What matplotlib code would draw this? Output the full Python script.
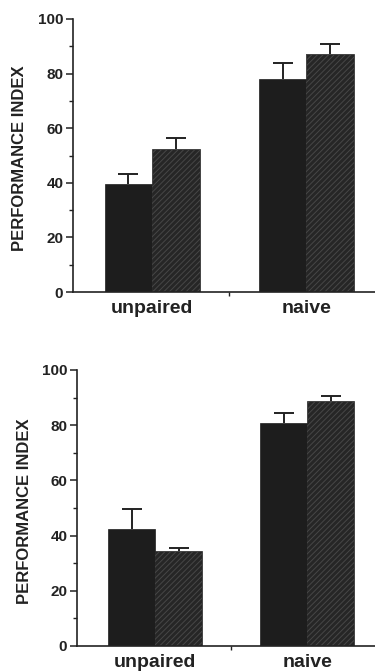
import numpy as np
import matplotlib

matplotlib.use("Agg")
import matplotlib.pyplot as plt

plt.rcParams["font.family"] = ["Liberation Sans", "DejaVu Sans"]
plt.rcParams["font.weight"] = "bold"
plt.rcParams["hatch.linewidth"] = 0.7

groups = ["unpaired", "naive"]
ylabel = "PERFORMANCE INDEX"

# upper experiment
top_a = [39.5, 78.0]
top_a_err = [3.7, 6.0]
top_b = [52.5, 87.2]
top_b_err = [3.8, 3.6]

# lower experiment
bot_a = [42.3, 80.7]
bot_a_err = [7.2, 3.7]
bot_b = [34.4, 88.9]
bot_b_err = [1.1, 1.7]

C_A, C_B, HATCH, INK = "#1d1d1d", "#262626", "#474747", "#222222"
W = 0.31
CAP = 0.065


def panel(ax, a, a_err, b, b_err):
    x = np.arange(len(groups))
    ax.bar(x - W / 2, a, W, color=C_A, edgecolor=C_A, lw=0.5)
    ax.bar(x + W / 2, b, W, color=C_B, edgecolor=C_B, lw=0.5)
    # hatching on the second series, drawn as an overlay
    ax.bar(x + W / 2, b, W, facecolor="none", edgecolor=HATCH, lw=0, hatch="//////")
    for xs, v, e in [(x - W / 2, a, a_err), (x + W / 2, b, b_err)]:
        top = np.array(v) + np.array(e)
        ax.vlines(xs, v, top, color=INK, lw=1.4)
        ax.hlines(top, xs - CAP, xs + CAP, color=INK, lw=1.4)
    ax.set_xlim(-0.515, 1.445)
    ax.set_ylim(0, 100)
    for s in ["top", "right"]:
        ax.spines[s].set_visible(False)
    for s in ["left", "bottom"]:
        ax.spines[s].set_linewidth(1.2)
        ax.spines[s].set_color(INK)
    ax.set_yticks(np.arange(0, 101, 20))
    ax.set_yticks(np.arange(10, 100, 20), minor=True)
    ax.tick_params(axis="y", which="major", length=5, width=1.1, labelsize=11, pad=2, colors=INK)
    ax.tick_params(axis="y", which="minor", length=3, width=1.0, colors=INK)
    ax.set_xticks(x)
    ax.set_xticklabels(groups, fontsize=14)
    ax.set_xticks([0.5], minor=True)
    ax.tick_params(axis="x", which="major", length=0, pad=6, colors=INK)
    ax.tick_params(axis="x", which="minor", length=3, width=1.0, colors=INK)
    ax.set_ylabel(ylabel, fontsize=12, fontweight="bold", color=INK)
    ax.yaxis.set_label_coords(-0.152, 0.49)


fig = plt.figure(figsize=(3.75, 6.71), dpi=100)
ax1 = fig.add_axes([0.1947, 0.5648, 0.8053, 0.4069])
ax2 = fig.add_axes([0.2053, 0.0373, 0.7947, 0.4113])
panel(ax1, top_a, top_a_err, top_b, top_b_err)
panel(ax2, bot_a, bot_a_err, bot_b, bot_b_err)

fig.savefig("out.png", dpi=100)
